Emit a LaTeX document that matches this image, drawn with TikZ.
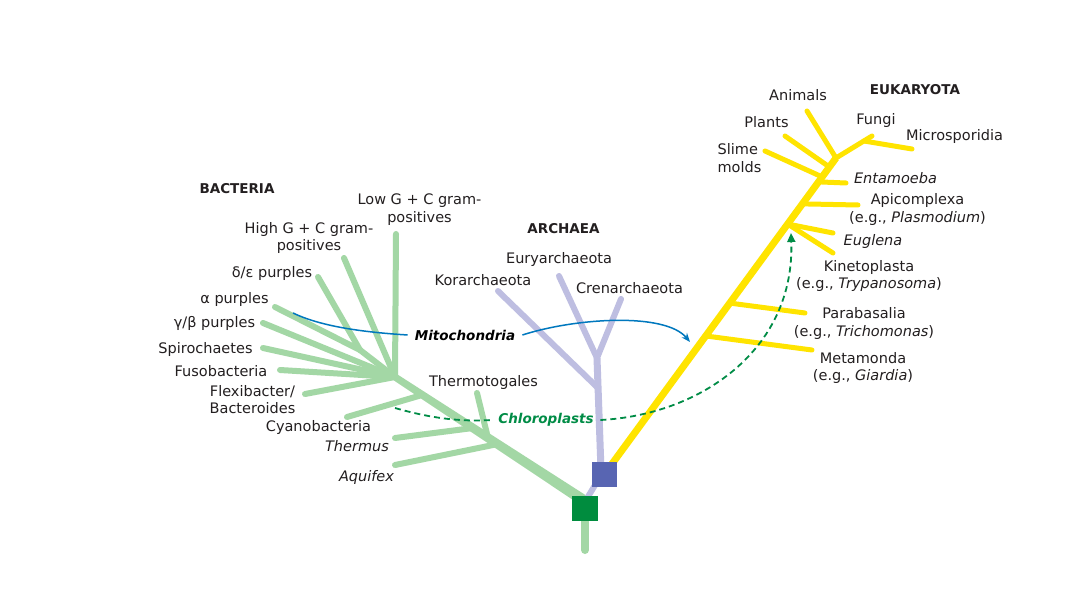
\documentclass[tikz,border=0pt]{standalone}
\usepackage{fontspec}
\setmainfont{DejaVu Sans}
\usetikzlibrary{arrows.meta,calc}
\definecolor{bact}{RGB}{163,215,165}
\definecolor{gsqc}{RGB}{0,140,62}
\definecolor{arch}{RGB}{190,190,225}
\definecolor{bsqc}{RGB}{88,101,178}
\definecolor{euk}{RGB}{255,228,0}
\definecolor{mitc}{RGB}{0,120,190}
\definecolor{chlc}{RGB}{0,140,70}
\definecolor{txt}{RGB}{35,31,32}
\begin{document}
\begin{tikzpicture}[x=1pt,y=-1pt,
  lbl/.style={font=\fontsize{14.5}{17.5}\selectfont, text=txt, inner sep=0pt},
  hdr/.style={font=\fontsize{13.5}{16}\selectfont\bfseries, text=txt, inner sep=0pt},
  bbr/.style={draw=bact, line width=6pt, line cap=round},
  abr/.style={draw=arch, line width=6pt, line cap=round},
  ebr/.style={draw=euk, line width=5pt, line cap=round},
  sq/.style={draw=none, minimum width=25pt, minimum height=25pt, inner sep=0pt}
]
\useasboundingbox (0,0) rectangle (1080,615);
\fill[white] (0,0) rectangle (1080,615);

% ---------- Bacteria ----------
\coordinate (root) at (583,500);
\coordinate (hub) at (395,377);
\coordinate (lowgc) at (396,234);
\coordinate (highgc) at (344,258);
\coordinate (de) at (318,277);
\coordinate (al) at (275,307);
\coordinate (dej) at (360,350);
\coordinate (gb) at (263,323);
\coordinate (spi) at (263,348);
\coordinate (fus) at (280,370);
\coordinate (flex) at (305,394);
\coordinate (cyj) at (422,395);
\coordinate (cya) at (347,417);
\coordinate (thj) at (473,428);
\coordinate (the) at (395,438);
\coordinate (tgj) at (488,438);
\coordinate (tge) at (477,393);
\coordinate (aqj) at (498,444);
\coordinate (aqe) at (395,465);

\fill[bact] (586,495.4) -- (396.9,374.1) -- (393.1,379.9) -- (580,504.6) -- cycle;
\draw[bbr] (lowgc) -- (hub);
\draw[bbr] (highgc) -- (hub);
\draw[bbr] (de) -- (dej);
\draw[bbr] (al) -- (dej);
\draw[bbr] (dej) -- (hub);
\draw[bbr] (gb) -- (hub);
\draw[bbr] (spi) -- (hub);
\draw[bbr] (fus) -- (hub);
\draw[bbr] (flex) -- (hub);
\draw[bbr] (cya) -- (cyj);
\draw[bbr] (the) -- (thj);
\draw[bbr] (tge) -- (tgj);
\draw[bbr] (aqe) -- (aqj);
\draw[bact, line width=8pt, line cap=round] (585,515) -- (585,550);

% ---------- Archaea ----------
\coordinate (aroot) at (601,470);
\coordinate (afork) at (597,358);
\coordinate (korj) at (598,388);
\coordinate (kor) at (498,291);
\coordinate (eur) at (559,276);
\coordinate (cre) at (621,299);
\draw[arch, line width=6pt] (586,500) -- (603,472);
\draw[arch, line width=7pt] (aroot) -- (afork);
\draw[abr] (kor) -- (korj);
\draw[abr] (eur) -- (afork);
\draw[abr] (cre) -- (afork);

% ---------- Eukaryota ----------
\coordinate (e0) at (609,468);
\coordinate (e1) at (836,158);
\draw[euk, line width=7pt] (e0) -- (e1);
\coordinate (metj) at ($(e0)!0.426!(e1)$);
\coordinate (parj) at ($(e0)!0.532!(e1)$);
\coordinate (eugj) at ($(e0)!0.787!(e1)$);
\coordinate (apij) at ($(e0)!0.852!(e1)$);
\coordinate (entj) at ($(e0)!0.923!(e1)$);
\coordinate (slij) at ($(e0)!0.939!(e1)$);
\coordinate (plaj) at ($(e0)!0.971!(e1)$);
\coordinate (ani) at (807,111);
\coordinate (fun) at (872,136);
\coordinate (micj) at (864,141);
\coordinate (mic) at (912,149);
\draw[ebr] (ani) -- (e1);
\draw[ebr] (e1) -- (fun);
\draw[ebr] (micj) -- (mic);
\draw[ebr] (plaj) -- (785,136);
\draw[ebr] (slij) -- (765,151);
\draw[ebr] (entj) -- (846,183);
\draw[ebr] (apij) -- (858,205);
\draw[ebr] (eugj) -- (833,233);
\draw[ebr] (eugj) -- (833,253);
\draw[ebr] (parj) -- (805,313);
\draw[ebr] (metj) -- (812,350);

% ---------- Squares ----------
\node[sq, fill=bsqc] (bsq) at (604.5,474.5) {};
\node[sq, fill=gsqc, minimum width=26pt] (gsq) at (585,508.5) {};

% ---------- Labels ----------
\node[hdr] (hbac) at (237,189) {BACTERIA};
\node[hdr] (harc) at (563.5,229) {ARCHAEA};
\node[hdr] (heuk) at (915,90) {EUKARYOTA};

\node[lbl, align=center] (llow) at (419.5,209.5) {Low G + C gram-\\positives};
\node[lbl, align=center] (lhigh) at (309,238) {High G + C gram-\\positives};
\node[lbl] (lde) at (272,273) {δ/ε purples};
\node[lbl] (lal) at (234.5,299) {α purples};
\node[lbl] (lgb) at (214.5,323) {γ/β purples};
\node[lbl] (lspi) at (205.5,349) {Spirochaetes};
\node[lbl] (lfus) at (221,371) {Fusobacteria};
\node[lbl, align=center] (lflex) at (252.5,399.5) {Flexibacter/\\Bacteroides};
\node[lbl] (lcya) at (318.5,427) {Cyanobacteria};
\node[lbl] (lthe) at (357,446) {\itshape Thermus};
\node[lbl] (laq) at (366.5,477) {\itshape Aquifex};
\node[lbl] (ltg) at (483.5,382) {Thermotogales};

\node[lbl] (leur) at (559,259) {Euryarchaeota};
\node[lbl] (lkor) at (483,280) {Korarchaeota};
\node[lbl] (lcre) at (629.5,288) {Crenarchaeota};

\node[lbl] (lani) at (798,95) {Animals};
\node[lbl] (lpla) at (766.5,122) {Plants};
\node[lbl] (lfun) at (876,121) {Fungi};
\node[lbl] (lmic) at (954.5,137) {Microsporidia};
\node[lbl, align=left] (lsli) at (739.5,158) {Slime\\molds};
\node[lbl] (lent) at (895.5,178) {\itshape Entamoeba};
\node[lbl, align=center] (lapi) at (917.5,209.5) {Apicomplexa\\(e.g., \textit{Plasmodium})};
\node[lbl] (leug) at (873,242) {\itshape Euglena};
\node[lbl, align=center] (lkin) at (869,276) {Kinetoplasta\\(e.g., \textit{Trypanosoma})};
\node[lbl, align=center] (lpar) at (864,323.5) {Parabasalia\\(e.g., \textit{Trichomonas})};
\node[lbl, align=center] (lmet) at (863,368) {Metamonda\\(e.g., \textit{Giardia})};

% ---------- Mitochondria ----------
\node[hdr, font=\fontsize{13.5}{16}\selectfont\bfseries\itshape, text=black, inner xsep=7pt] (mito) at (465,335) {Mitochondria};
\coordinate (ms) at (293,313);
\coordinate (me) at (690,342);
\draw[mitc, line width=1.5pt] (ms) .. controls (320,326) and (360,332) .. (mito.west);
\draw[mitc, line width=1.5pt, -{Stealth[length=9pt,width=7pt]}] (mito.east) .. controls (575,318) and (665,312) .. (me);

% ---------- Chloroplasts ----------
\node[hdr, font=\fontsize{13.5}{16}\selectfont\bfseries\itshape, text=chlc, inner xsep=6.5pt] (chl) at (546,420) {Chloroplasts};
\coordinate (cs) at (395,408);
\coordinate (ce) at (791,233);
\draw[chlc, line width=1.8pt, dash pattern=on 6pt off 4pt] (cs) .. controls (430,418) and (460,422) .. (chl.west);
\draw[chlc, line width=1.8pt, dash pattern=on 6pt off 4pt, -{Triangle[width=8pt,length=9pt]}] (chl.east) .. controls (700,415) and (795,350) .. (ce);
\end{tikzpicture}
\end{document}
